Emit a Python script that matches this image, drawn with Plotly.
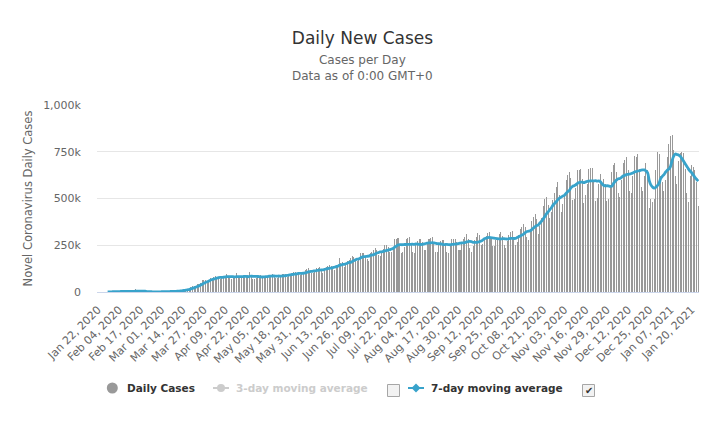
import pandas as pd
import plotly.graph_objects as go

START_DATE = "2020-01-22"

# Daily new cases (thousands), one list per month
JAN_2020 = [0.0, 0.1, 0.3, 0.5, 0.7, 0.8, 2.7, 0.6, 2.1, 1.7]
FEB_2020 = [2.1, 2.6, 2.8, 3.2, 3.9, 3.7, 3.2, 3.4, 2.7, 3.0, 2.6, 2.5, 2.0, 15.1, 6.5,
            2.6, 2.1, 2.0, 1.9, 1.8, 0.6, 1.0, 1.0, 0.6, 0.9, 0.9, 1.2, 1.3, 1.9]
MAR_2020 = [1.8, 1.9, 2.4, 2.3, 2.8, 3.9, 4.0, 3.9, 3.8, 4.6, 7.2, 7.5, 10.8, 11.0, 13.5,
            14.5, 16.5, 19.5, 28.5, 32.0, 32.5, 33.5, 41.0, 41.5, 50.5, 62.0, 64.5, 65.0,
            60.0, 63.0, 76.5]
APR_2020 = [76, 80, 84, 82, 73, 72, 78, 88, 86, 94, 82, 77, 71, 73, 82, 100, 88, 83, 76, 76,
            78, 80, 90, 105, 87, 72, 72, 76, 79, 87]
MAY_2020 = [90, 86, 79, 78, 79, 93, 89, 94, 87, 76, 74, 85, 87, 97, 98, 95, 82, 90, 95, 98,
            106, 106, 102, 98, 90, 96, 104, 118, 124, 126, 104]
JUN_2020 = [100, 104, 118, 128, 129, 135, 112, 104, 121, 135, 139, 145, 137, 132, 118, 147,
            141, 182, 153, 158, 133, 143, 167, 171, 182, 193, 186, 167, 165, 175]
JUL_2020 = [207, 210, 210, 191, 179, 168, 208, 216, 226, 237, 225, 196, 190, 215, 229, 249,
            250, 239, 216, 212, 234, 282, 284, 290, 258, 210, 213, 241, 282, 289, 292]
AUG_2020 = [259, 213, 209, 254, 274, 285, 285, 266, 225, 227, 265, 282, 288, 292, 258, 213,
            214, 259, 275, 280, 276, 262, 214, 209, 253, 286, 283, 285, 268, 227, 224]
SEP_2020 = [268, 284, 293, 311, 282, 233, 213, 245, 280, 296, 316, 306, 251, 255, 290, 302,
            315, 323, 296, 245, 246, 280, 290, 309, 323, 301, 250, 236, 272, 307]
OCT_2020 = [319, 324, 294, 254, 266, 305, 338, 350, 363, 346, 295, 279, 323, 382, 403, 416,
            393, 311, 355, 396, 460, 500, 510, 464, 395, 430, 490, 530, 560, 590, 520]
NOV_2020 = [430, 470, 520, 600, 625, 640, 610, 490, 495, 555, 650, 655, 660, 605, 475, 520,
            575, 660, 662, 665, 600, 485, 505, 580, 632, 590, 605, 580, 485, 500]
DEC_2020 = [560, 640, 680, 690, 640, 530, 510, 600, 690, 705, 720, 650, 540, 530, 620, 729,
            720, 740, 660, 560, 540, 620, 690, 650, 450, 500, 480, 500, 650, 750, 740]
JAN_2021 = [620, 590, 540, 600, 720, 790, 835, 840, 760, 620, 580, 700, 745, 750, 745, 660,
            530, 480, 620, 680, 670, 650, 590, 460]

TICK_LABELS = ["Jan 22, 2020", "Feb 04, 2020", "Feb 17, 2020", "Mar 01, 2020", "Mar 14, 2020",
               "Mar 27, 2020", "Apr 09, 2020", "Apr 22, 2020", "May 05, 2020", "May 18, 2020",
               "May 31, 2020", "Jun 13, 2020", "Jun 26, 2020", "Jul 09, 2020", "Jul 22, 2020",
               "Aug 04, 2020", "Aug 17, 2020", "Aug 30, 2020", "Sep 12, 2020", "Sep 25, 2020",
               "Oct 08, 2020", "Oct 21, 2020", "Nov 03, 2020", "Nov 16, 2020", "Nov 29, 2020",
               "Dec 12, 2020", "Dec 25, 2020", "Jan 07, 2021", "Jan 20, 2021"]
Y_TICKS = [0, 250000, 500000, 750000, 1000000]
Y_TICK_TEXT = ["0", "250k", "500k", "750k", "1,000k"]

months = [JAN_2020, FEB_2020, MAR_2020, APR_2020, MAY_2020, JUN_2020, JUL_2020, AUG_2020,
          SEP_2020, OCT_2020, NOV_2020, DEC_2020, JAN_2021]
daily_k = [v for m in months for v in m]
dates = pd.date_range(START_DATE, periods=len(daily_k), freq="D")
daily = pd.Series([v * 1000 for v in daily_k], index=dates)
ma7 = daily.rolling(7).mean()

BAR_COLOR = "#999999"
LINE_COLOR = "#38A3CB"
FONT = "DejaVu Sans"

fig = go.Figure()
fig.add_trace(go.Bar(x=dates, y=daily.values, marker=dict(color=BAR_COLOR, line=dict(width=0)),
                     name="Daily Cases"))
fig.add_trace(go.Scatter(x=dates, y=ma7.values, mode="lines", name="7-day moving average",
                         line=dict(color=LINE_COLOR, width=2.8, shape="spline", smoothing=1.0)))

# plot area geometry in pixels
L, R, T, B = 97, 699, 105, 292
W, H = R - L, B - T


def px(x):
    return (x - L) / W


def py(y):
    return (B - y) / H


tickvals = pd.to_datetime(TICK_LABELS, format="%b %d, %Y")

fig.update_layout(
    width=725, height=421,
    margin=dict(l=L, r=725 - R, t=T, b=421 - B),
    plot_bgcolor="white", paper_bgcolor="white",
    showlegend=False, bargap=0.38,
    font=dict(family=FONT, color="#666666", size=11),
    title=dict(text="Daily New Cases", x=0.5, xref="container", xanchor="center",
               y=1 - 38 / 421, yref="container", yanchor="middle",
               font=dict(family=FONT, size=17, color="#333333")),
    xaxis=dict(type="date", range=[dates[0] - pd.Timedelta(hours=12), dates[-1] + pd.Timedelta(hours=12)],
               tickvals=tickvals, ticktext=TICK_LABELS, tickangle=-45, showgrid=False,
               showline=True, linecolor="#ccd6eb", linewidth=1, ticks="", ticklabelstandoff=6,
               tickfont=dict(size=11, color="#666666"), zeroline=False),
    yaxis=dict(range=[0, 1000000], tickvals=Y_TICKS, ticktext=Y_TICK_TEXT, showgrid=True,
               gridcolor="#e6e6e6", gridwidth=1, zeroline=False, showline=False, ticks="",
               ticklabelstandoff=15, tickfont=dict(size=11, color="#666666"),
               title=dict(text="Novel Coronavirus Daily Cases", standoff=8,
                          font=dict(size=11.5, color="#666666"))),
)

# subtitle
fig.add_annotation(text="Cases per Day<br>Data as of 0:00 GMT+0", xref="paper", yref="paper",
                   x=px(362.5), y=py(68), xanchor="center", yanchor="middle", showarrow=False,
                   font=dict(family=FONT, size=12, color="#666666"))

# legend (drawn manually to mirror the original layout)
LEG_Y = 388
leg_font = dict(family=FONT, size=10.5, color="#333333")
hidden_font = dict(family=FONT, size=10.5, color="#cccccc")
shapes = []


def pix_shape(kind, cx, cy, x0, x1, y0, y1, **kw):
    d = dict(type=kind, xref="paper", yref="paper", xsizemode="pixel", ysizemode="pixel",
             xanchor=px(cx), yanchor=py(cy), x0=x0, x1=x1, y0=y0, y1=y1)
    d.update(kw)
    return d


# Daily Cases symbol
shapes.append(pix_shape("circle", 112.3, LEG_Y, -5.5, 5.5, -5.5, 5.5,
                        fillcolor=BAR_COLOR, line=dict(width=0)))
fig.add_annotation(text="<b>Daily Cases</b>", xref="paper", yref="paper", x=px(125), y=py(LEG_Y),
                   xanchor="left", yanchor="middle", showarrow=False, font=leg_font)
# 3-day MA (hidden series)
shapes.append(pix_shape("line", 221, LEG_Y, -8, 8, 0, 0, line=dict(color="#cccccc", width=2)))
shapes.append(pix_shape("circle", 221, LEG_Y, -4, 4, -4, 4, fillcolor="#cccccc", line=dict(width=0)))
fig.add_annotation(text="<b>3-day moving average</b>", xref="paper", yref="paper", x=px(234),
                   y=py(LEG_Y), xanchor="left", yanchor="middle", showarrow=False, font=hidden_font)
# checkbox 1 (unchecked)
shapes.append(pix_shape("rect", 393.5, 390.5, -6, 6, -6, 6, fillcolor="#f2f2f2",
                        line=dict(color="#a6a6a6", width=1)))
# 7-day MA
shapes.append(pix_shape("line", 416, LEG_Y, -8, 8, 0, 0, line=dict(color=LINE_COLOR, width=2)))
diamond = dict(type="path", xref="paper", yref="paper", xsizemode="pixel", ysizemode="pixel",
               xanchor=px(416), yanchor=py(LEG_Y), path="M 0,-4.5 L 4.5,0 L 0,4.5 L -4.5,0 Z",
               fillcolor=LINE_COLOR, line=dict(width=0))
shapes.append(diamond)
fig.add_annotation(text="<b>7-day moving average</b>", xref="paper", yref="paper", x=px(429),
                   y=py(LEG_Y), xanchor="left", yanchor="middle", showarrow=False, font=leg_font)
# checkbox 2 (checked)
shapes.append(pix_shape("rect", 588.5, 390.5, -6, 6, -6, 6, fillcolor="#f2f2f2",
                        line=dict(color="#a6a6a6", width=1)))
fig.add_annotation(text="✔", xref="paper", yref="paper", x=px(588.5), y=py(390.5),
                   xanchor="center", yanchor="middle", showarrow=False,
                   font=dict(family=FONT, size=10, color="#333333"))

fig.update_layout(shapes=shapes)
post = ("document.body.style.margin='0';"
        "document.querySelectorAll('.bars path').forEach(function(p){"
        "p.style.shapeRendering='crispEdges';});")
fig.write_html("out.html", config={"staticPlot": True}, post_script=post)
